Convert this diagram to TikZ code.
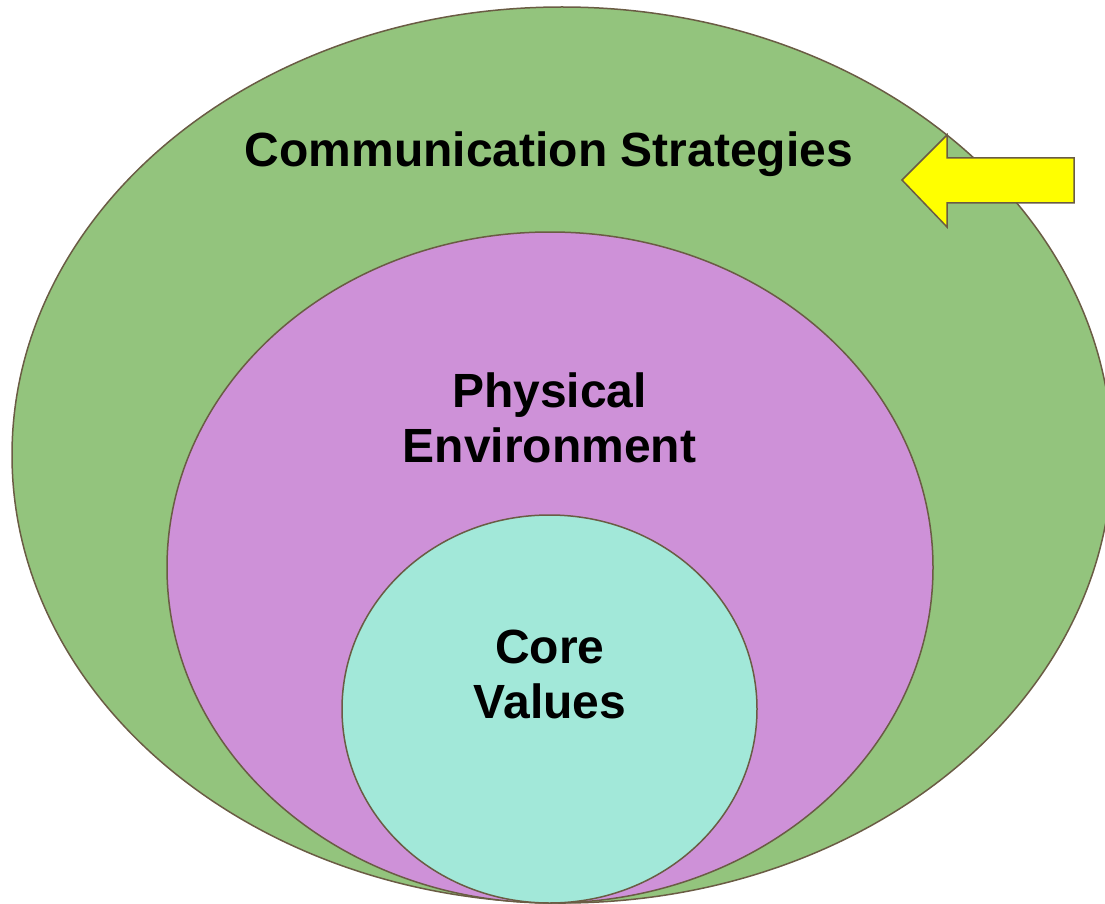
\documentclass[tikz,border=0pt]{standalone}
\usepackage{fontspec}
\setmainfont{Liberation Sans}
\usepackage{xcolor}
\usepackage{tikz}
\definecolor{edge}{RGB}{106,92,68}
\definecolor{outergreen}{RGB}{147,196,125}
\definecolor{midpurple}{RGB}{206,145,216}
\definecolor{innercyan}{RGB}{162,232,217}
\definecolor{arrowyellow}{RGB}{255,255,0}
\begin{document}
\begin{tikzpicture}[x=1pt, y=-1pt,
            ring/.style={draw=edge, line width=1.5pt},
            ringtext/.style={font=\fontsize{48}{55}\selectfont\bfseries, align=center, anchor=base, inner sep=0pt}]
            \useasboundingbox (0,0) rectangle (1105,904);
            \filldraw[ring, fill=outergreen] (562,455) ellipse [x radius=550, y radius=448];
            \filldraw[ring, fill=midpurple] (550,567.5) ellipse [x radius=383, y radius=335.5];
            \filldraw[ring, fill=innercyan] (549.5,709) ellipse [x radius=207.5, y radius=194];
            \filldraw[ring, fill=arrowyellow] (902,180) -- (947,135) -- (947,158) -- (1074,158)
                -- (1074,203) -- (947,203) -- (947,227) -- cycle;
            \node[ringtext] (strategies) at (549,167) {Communication Strategies};
            \node[ringtext] (environment) at (549.5,462) {Physical\\Environment};
            \node[ringtext] (values) at (550,718) {Core\\Values};
        \end{tikzpicture}
\end{document}
